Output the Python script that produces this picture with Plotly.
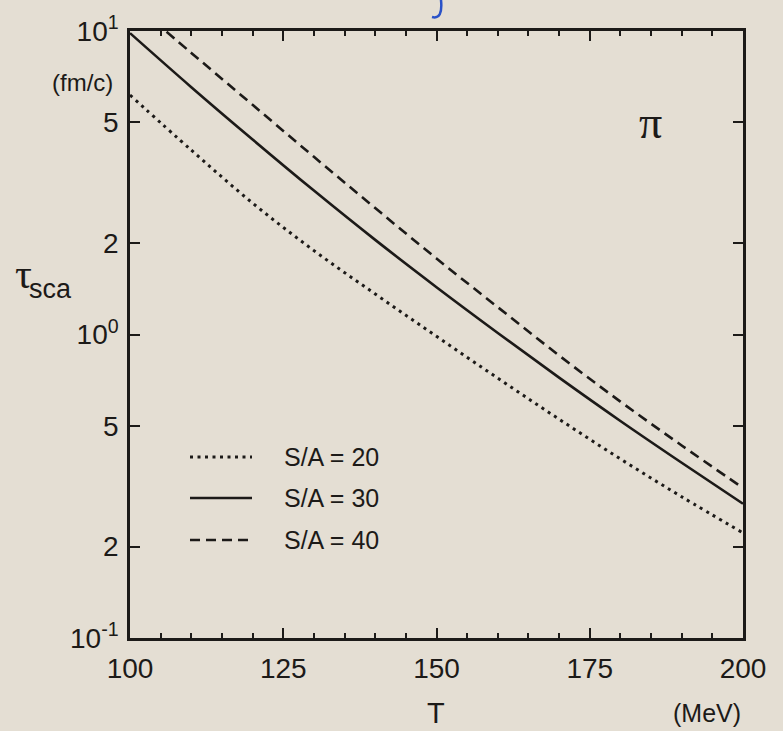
import plotly.graph_objects as go

# Scattering time of pions vs temperature, for three entropy-per-baryon values
T = [100, 110, 120, 130, 140, 150, 160, 170, 180, 190, 200]
tau_sa20 = [6.15, 4.05, 2.71, 1.89, 1.36, 0.986, 0.718, 0.526, 0.389, 0.292, 0.222]
tau_sa30 = [9.84, 6.53, 4.39, 2.98, 2.05, 1.432, 1.012, 0.721, 0.519, 0.378, 0.277]
tau_sa40 = [12.6, 8.47, 5.71, 3.85, 2.61, 1.78, 1.23, 0.853, 0.601, 0.431, 0.312]

labels = ["S/A = 20", "S/A = 30", "S/A = 40"]
series = [tau_sa20, tau_sa30, tau_sa40]
dashes = ["3px,4.5px", "solid", "10px,6px"]
widths = [3.0, 2.6, 2.6]

y_tickvals = [0.1, 0.2, 0.5, 1, 2, 5, 10]
y_ticktext = ["10<sup>-1</sup>", "2", "5", "10<sup>0</sup>", "2", "5", "10<sup>1</sup>"]
x_tickvals = [100, 125, 150, 175, 200]

BG = "#e4ded3"
INK = "#1c1a18"
SANS = "Liberation Sans, Arial, sans-serif"
SERIF = "Liberation Serif, Times New Roman, serif"

W, H = 783, 731
L, R, TOP, BOT = 130, 743, 31, 638


def px_x(px):
    return (px - L) / (R - L)


def px_y(py):
    return (BOT - py) / (BOT - TOP)


fig = go.Figure()
for vals, name, dash, w in zip(series, labels, dashes, widths):
    fig.add_trace(go.Scatter(
        x=T, y=vals, mode="lines", name=name, showlegend=False,
        line=dict(color=INK, width=w, dash=dash, shape="spline", smoothing=1.0),
    ))

# Hand-placed key: sample line + label per series
legend_rows = [457, 498, 540]
shapes = []
annotations = []
for row_y, name, dash, w in zip(legend_rows, labels, dashes, widths):
    shapes.append(dict(
        type="line", xref="paper", yref="paper",
        x0=px_x(190), x1=px_x(252), y0=px_y(row_y), y1=px_y(row_y),
        line=dict(color=INK, width=w, dash=dash),
    ))
    annotations.append(dict(
        text=name, xref="paper", yref="paper", x=px_x(282), y=px_y(row_y),
        xanchor="left", yanchor="middle", showarrow=False,
        font=dict(family=SANS, size=25, color=INK),
    ))

# small blue pen stroke at the top margin
shapes.append(dict(
    type="path", xref="paper", yref="paper",
    path=(f"M {px_x(441)},{px_y(0)} "
          f"Q {px_x(443)},{px_y(20)} {px_x(432)},{px_y(17)}"),
    line=dict(color="#2a52c8", width=2.5),
))

extra = [
    ("(fm/c)", 82, 82, 24, SANS),
    ("τ", 23, 274, 42, SERIF),
    ("sca", 50, 289, 27, SANS),
    ("π", 650, 122, 46, SERIF),
    ("T", 436, 713, 29, SANS),
    ("(MeV)", 707, 713, 25, SANS),
]
for text, xp, yp, size, fam in extra:
    annotations.append(dict(
        text=text, xref="paper", yref="paper", x=px_x(xp), y=px_y(yp),
        xanchor="center", yanchor="middle", showarrow=False,
        font=dict(family=fam, size=size, color=INK),
    ))

fig.update_layout(
    width=W, height=H,
    margin=dict(l=L, r=W - R, t=TOP, b=H - BOT, pad=0),
    paper_bgcolor=BG, plot_bgcolor=BG,
    font=dict(family=SANS, color=INK),
    shapes=shapes, annotations=annotations,
    showlegend=False,
)
fig.update_xaxes(
    range=[100, 200], tickvals=x_tickvals, ticks="inside", ticklen=10,
    tickwidth=2, tickcolor=INK, showline=True, linecolor=INK, linewidth=2.5,
    mirror="allticks", showgrid=False, zeroline=False,
    tickfont=dict(family=SANS, size=28, color=INK), ticklabelstandoff=4,
    minor=dict(dtick=5, ticks="inside", ticklen=5, tickwidth=2, tickcolor=INK,
               showgrid=False),
)
fig.update_yaxes(
    type="log", range=[-1, 1], tickvals=y_tickvals, ticktext=y_ticktext,
    ticks="inside", ticklen=10, tickwidth=2, tickcolor=INK,
    showline=True, linecolor=INK, linewidth=2.5, mirror="allticks",
    showgrid=False, zeroline=False,
    tickfont=dict(family=SANS, size=28, color=INK), ticklabelstandoff=3,
)

fig.write_html("out.html")
